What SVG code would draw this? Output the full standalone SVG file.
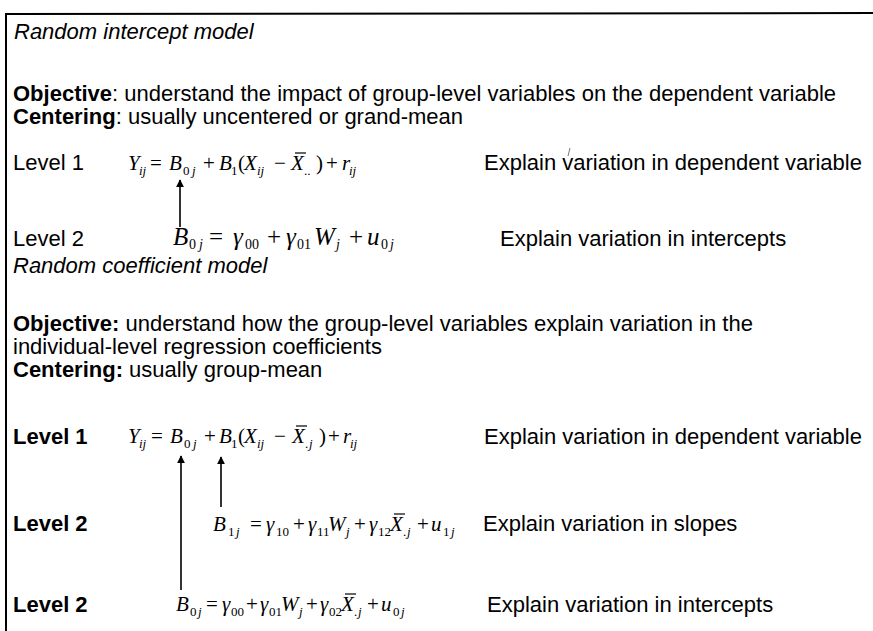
<svg xmlns="http://www.w3.org/2000/svg" width="873" height="631" viewBox="0 0 873 631">
<defs>
<style>
.t{font-family:"Liberation Sans",Arial,sans-serif;font-size:22px;fill:#000}
.it{font-style:italic}
.b{font-weight:bold}
.eq{font-family:"Liberation Serif","Times New Roman",serif;font-size:21px;fill:#000}
.eq2{font-family:"Liberation Serif","Times New Roman",serif;font-size:25px;fill:#000}
.v{font-style:italic}
.s{font-size:13px}
.s2{font-size:14px}
.conn{stroke:#000;stroke-width:1.6;fill:none;marker-end:url(#ah)}
.bar{stroke:#000;stroke-width:1.2}
</style>
<marker id="ah" viewBox="0 0 10 10" refX="9" refY="5" markerWidth="5" markerHeight="5" orient="auto" markerUnits="strokeWidth">
<path d="M0,0 L10,5 L0,10 z" fill="#000"/>
</marker>
</defs>
<rect width="873" height="631" fill="#fff"/>
<g id="frame">
<path d="M873,13 L6,14 L6,631" stroke="#000" stroke-width="2" fill="none"/>
</g>

<g id="section1">
<text class="t it" x="14" y="39">Random intercept model</text>
<text class="t" x="13" y="101"><tspan class="b">Objective</tspan>: understand the impact of group-level variables on the dependent variable</text>
<text class="t" x="13" y="124"><tspan class="b">Centering</tspan>: usually uncentered or grand-mean</text>
</g>

<g id="level1-a">
<text class="t" x="13" y="170">Level 1</text>
<text class="eq"><tspan class="v" x="128" y="170">Y</tspan><tspan class="v s" x="139" y="175">ij</tspan><tspan x="150" y="170">=</tspan><tspan class="v" x="169" y="170">B</tspan><tspan class="s" x="183" y="175">0</tspan><tspan class="v s" x="192" y="175">j</tspan><tspan x="203" y="170">+</tspan><tspan class="v" x="219" y="170">B</tspan><tspan class="s" x="231" y="175">1</tspan><tspan x="238" y="170">(</tspan><tspan class="v" x="244" y="170">X</tspan><tspan class="v s" x="257" y="175">ij</tspan><tspan x="274" y="170">−</tspan><tspan class="v" x="291" y="170">X</tspan><tspan class="s" x="304" y="175">..</tspan><tspan x="316" y="170">)</tspan><tspan x="326" y="170">+</tspan><tspan class="v" x="342" y="170">r</tspan><tspan class="v s" x="349" y="175">ij</tspan></text>
<line class="bar" x1="295" y1="153" x2="306" y2="153"/>
<text class="t" x="484" y="170">Explain variation in dependent variable</text>
<line x1="570" y1="148" x2="568" y2="156" stroke="#555" stroke-width="0.8"/>
</g>

<g id="level2-a">
<text class="t" x="13" y="246">Level 2</text>
<text class="eq2"><tspan class="v" x="173" y="245">B</tspan><tspan class="s2" x="189" y="249">0</tspan><tspan class="v s2" x="199" y="249">j</tspan><tspan x="209" y="245">=</tspan><tspan class="v" x="233" y="245">γ</tspan><tspan class="s2" x="245" y="249">00</tspan><tspan x="267" y="245">+</tspan><tspan class="v" x="286" y="245">γ</tspan><tspan class="s2" x="297" y="249">01</tspan><tspan class="v" x="314" y="245">W</tspan><tspan class="v s2" x="336" y="249">j</tspan><tspan x="349" y="245">+</tspan><tspan class="v" x="367" y="245">u</tspan><tspan class="s2" x="381" y="249">0</tspan><tspan class="v s2" x="390" y="249">j</tspan></text>
<text class="t" x="500" y="246">Explain variation in intercepts</text>
</g>

<g id="section2">
<text class="t it" x="13" y="273">Random coefficient model</text>
<text class="t" x="13" y="331"><tspan class="b">Objective:</tspan> understand how the group-level variables explain variation in the</text>
<text class="t" x="13" y="354">individual-level regression coefficients</text>
<text class="t" x="13" y="377"><tspan class="b">Centering:</tspan> usually group-mean</text>
</g>

<g id="level1-b">
<text class="t b" x="13" y="444">Level 1</text>
<text class="eq"><tspan class="v" x="128" y="443">Y</tspan><tspan class="v s" x="139" y="448">ij</tspan><tspan x="151" y="443">=</tspan><tspan class="v" x="170" y="443">B</tspan><tspan class="s" x="184" y="448">0</tspan><tspan class="v s" x="193" y="448">j</tspan><tspan x="204" y="443">+</tspan><tspan class="v" x="219" y="443">B</tspan><tspan class="s" x="231" y="448">1</tspan><tspan x="238" y="443">(</tspan><tspan class="v" x="244" y="443">X</tspan><tspan class="v s" x="257" y="448">ij</tspan><tspan x="274" y="443">−</tspan><tspan class="v" x="292" y="443">X</tspan><tspan class="s" x="305" y="448">.</tspan><tspan class="v s" x="309" y="448">j</tspan><tspan x="319" y="443">)</tspan><tspan x="328" y="443">+</tspan><tspan class="v" x="343" y="443">r</tspan><tspan class="v s" x="350" y="448">ij</tspan></text>
<line class="bar" x1="296" y1="426" x2="307" y2="426"/>
<text class="t" x="484" y="444">Explain variation in dependent variable</text>
</g>

<g id="level2-slopes">
<text class="t b" x="13" y="531">Level 2</text>
<text class="eq"><tspan class="v" x="213" y="531">B</tspan><tspan class="s" x="228" y="536">1</tspan><tspan class="v s" x="236" y="536">j</tspan><tspan x="250" y="531">=</tspan><tspan class="v" x="266" y="531">γ</tspan><tspan class="s" x="276" y="536">10</tspan><tspan x="293" y="531">+</tspan><tspan class="v" x="308" y="531">γ</tspan><tspan class="s" x="317" y="536">11</tspan><tspan class="v" x="328" y="531">W</tspan><tspan class="v s" x="346" y="536">j</tspan><tspan x="354" y="531">+</tspan><tspan class="v" x="369" y="531">γ</tspan><tspan class="s" x="378" y="536">12</tspan><tspan class="v" x="390" y="531">X</tspan><tspan class="s" x="403" y="536">.</tspan><tspan class="v s" x="407" y="536">j</tspan><tspan x="417" y="531">+</tspan><tspan class="v" x="431" y="531">u</tspan><tspan class="s" x="443" y="536">1</tspan><tspan class="v s" x="451" y="536">j</tspan></text>
<line class="bar" x1="394" y1="514" x2="405" y2="514"/>
<text class="t" x="483" y="531">Explain variation in slopes</text>
</g>

<g id="level2-intercepts">
<text class="t b" x="13" y="612">Level 2</text>
<text class="eq"><tspan class="v" x="176" y="611">B</tspan><tspan class="s" x="190" y="616">0</tspan><tspan class="v s" x="198" y="616">j</tspan><tspan x="206" y="611">=</tspan><tspan class="v" x="222" y="611">γ</tspan><tspan class="s" x="231" y="616">00</tspan><tspan x="246" y="611">+</tspan><tspan class="v" x="260" y="611">γ</tspan><tspan class="s" x="269" y="616">01</tspan><tspan class="v" x="281" y="611">W</tspan><tspan class="v s" x="299" y="616">j</tspan><tspan x="306" y="611">+</tspan><tspan class="v" x="320" y="611">γ</tspan><tspan class="s" x="329" y="616">02</tspan><tspan class="v" x="341" y="611">X</tspan><tspan class="s" x="354" y="616">.</tspan><tspan class="v s" x="358" y="616">j</tspan><tspan x="367" y="611">+</tspan><tspan class="v" x="381" y="611">u</tspan><tspan class="s" x="393" y="616">0</tspan><tspan class="v s" x="401" y="616">j</tspan></text>
<line class="bar" x1="345" y1="594" x2="356" y2="594"/>
<text class="t" x="487" y="612">Explain variation in intercepts</text>
</g>

<g id="connectors">
<line class="conn" x1="180" y1="227" x2="180" y2="180"/>
<line class="conn" x1="181" y1="590" x2="181" y2="456"/>
<line class="conn" x1="221" y1="507" x2="221" y2="457"/>
</g>
</svg>
